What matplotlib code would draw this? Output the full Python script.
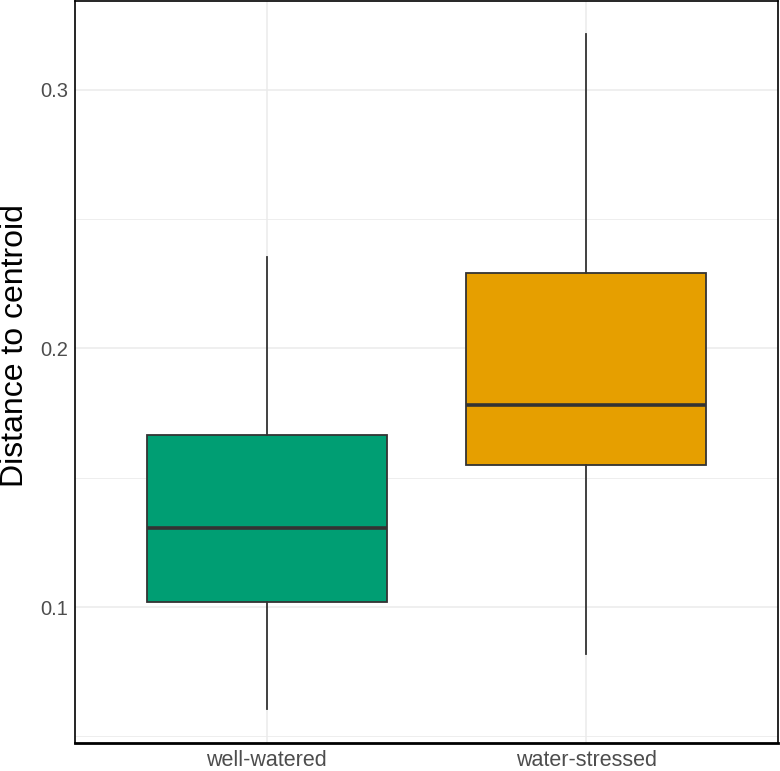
import matplotlib
matplotlib.use("Agg")
import matplotlib.pyplot as plt
from matplotlib.ticker import MultipleLocator

plt.rcParams['font.family'] = ['Liberation Sans', 'DejaVu Sans']

categories = ["well-watered", "water-stressed"]
whisker_low = [0.0605, 0.0818]
q1 = [0.1020, 0.1550]
medians = [0.1306, 0.1781]
q3 = [0.1665, 0.2292]
whisker_high = [0.2354, 0.3217]
colors = ["#009E73", "#E69F00"]

fig = plt.figure(figsize=(7.8, 7.71), dpi=100)
ax = fig.add_axes([75/780, (771-743)/771, (778-75)/780, (743-1)/771])

stats = []
for i, c in enumerate(categories):
    stats.append(dict(label=c, whislo=whisker_low[i], q1=q1[i], med=medians[i],
                      q3=q3[i], whishi=whisker_high[i], fliers=[]))

bp = ax.bxp(stats, positions=[1, 2], widths=0.75, patch_artist=True,
            showcaps=False, showfliers=False,
            boxprops=dict(edgecolor="#333333", linewidth=1.3),
            medianprops=dict(color="#333333", linewidth=2.6),
            whiskerprops=dict(color="#333333", linewidth=1.3),
            zorder=3)
for patch, col in zip(bp['boxes'], colors):
    patch.set_facecolor(col)

ax.set_xlim(0.4, 2.6)
ax.set_ylim(0.0474, 0.3344)
ax.yaxis.set_major_locator(MultipleLocator(0.1))
ax.yaxis.set_minor_locator(MultipleLocator(0.05))
ax.set_yticks([0.1, 0.2, 0.3])
ax.set_yticklabels(["0.1", "0.2", "0.3"])
ax.set_xticks([1, 2])
ax.set_xticklabels(categories)

ax.grid(True, which='major', color="#ebebeb", linewidth=1.1, zorder=0)
ax.grid(True, which='minor', axis='y', color="#ebebeb", linewidth=0.6, zorder=0)
ax.set_axisbelow(True)

ax.tick_params(axis='y', which='both', length=0, labelsize=14.5, colors="#4d4d4d", pad=5)
ax.tick_params(axis='x', which='both', length=0, labelsize=15.5, colors="#4d4d4d", pad=5)
for s in ax.spines.values():
    s.set_color("black")
    s.set_linewidth(1.2)
ax.spines['bottom'].set_linewidth(2.0)

ax.set_ylabel("Distance to centroid", fontsize=23, color="black")
ax.yaxis.set_label_coords(-0.064, 0.535)

fig.savefig("out.png", dpi=100)
